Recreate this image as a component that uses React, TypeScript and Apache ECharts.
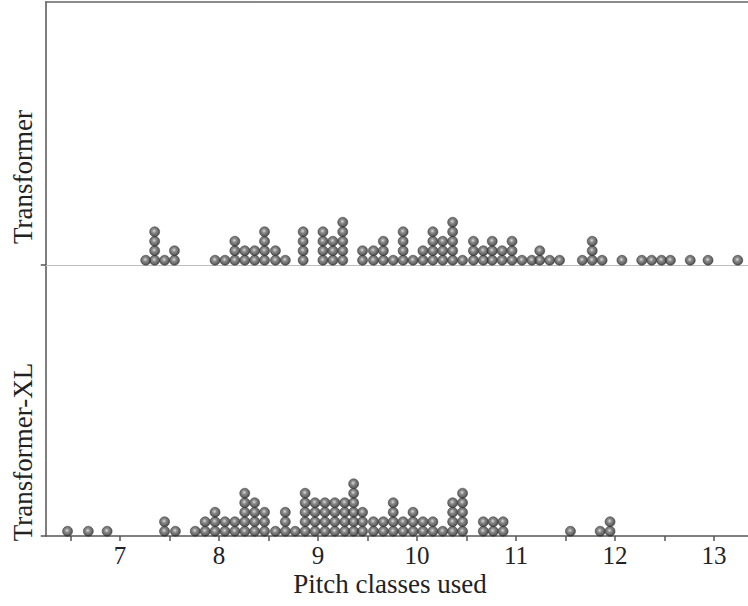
import React, { useEffect, useRef } from "react";
import * as echarts from "echarts";

// ---- data (dot positions and stack heights) ----
const transformerValues = [
  7.26, 7.35, 7.45, 7.55, 7.96, 8.06, 8.16, 8.26, 8.36, 8.46, 8.57, 8.67,
  8.85, 9.05, 9.15, 9.25, 9.45, 9.56, 9.66, 9.76, 9.86, 9.96, 10.06, 10.16,
  10.26, 10.36, 10.46, 10.57, 10.67, 10.76, 10.86, 10.96, 11.06, 11.16, 11.24,
  11.34, 11.44, 11.67, 11.77, 11.87, 12.07, 12.27, 12.37, 12.47, 12.56, 12.76,
  12.94, 13.24,
];
const transformerCounts = [
  1, 4, 1, 2, 1, 1, 3, 2, 2, 4, 2, 1,
  4, 4, 3, 5, 2, 2, 3, 1, 4, 1, 2, 4,
  3, 5, 1, 3, 2, 3, 2, 3, 1, 1, 2,
  1, 1, 1, 3, 1, 1, 1, 1, 1, 1, 1,
  1, 1,
];
const transformerXLValues = [
  6.47, 6.68, 6.87, 7.45, 7.56, 7.76, 7.86, 7.96, 8.06, 8.16, 8.26, 8.36,
  8.46, 8.57, 8.67, 8.77, 8.87, 8.97, 9.07, 9.17, 9.27, 9.36, 9.45, 9.56,
  9.66, 9.76, 9.86, 9.96, 10.06, 10.16, 10.26, 10.36, 10.46, 10.67, 10.77,
  10.87, 11.55, 11.85, 11.95,
];
const transformerXLCounts = [
  1, 1, 1, 2, 1, 1, 2, 3, 2, 2, 5, 4,
  3, 1, 3, 1, 5, 4, 4, 4, 4, 6, 3, 2,
  2, 4, 2, 3, 2, 2, 1, 4, 5, 2, 2,
  2, 1, 1, 2,
];
const xTickValues = [6.5, 7, 7.5, 8, 8.5, 9, 9.5, 10, 10.5, 11, 11.5, 12, 12.5, 13];
const xLabelValues = [7, 8, 9, 10, 11, 12, 13];
const panelNames = ["Transformer", "Transformer-XL"];
const xAxisTitle = "Pitch classes used";

// ---- layout ----
const VIEW_W = 748;
const VIEW_H = 606;
const CANVAS_W = 800; // chart canvas is wider than the view, so the frame's right side is cut off
const X_MIN = 6.25;
const X_MAX = 13.5;
const PX_PER_UNIT = 99;
const PLOT_LEFT = 45.75;
const TOP_Y = 2;
const MID_Y = 265;
const BOTTOM_Y = 536;
const ROW_PX = 9.5;
const FONT = "'Liberation Serif', 'Times New Roman', serif";

function stackDots(values: number[], counts: number[]) {
  const out: number[][] = [];
  values.forEach((v, i) => {
    for (let k = 1; k <= counts[i]; k++) out.push([v, k - 0.5]);
  });
  return out;
}

export default function App() {
  const ref = useRef<HTMLDivElement>(null);

  useEffect(() => {
    if (!ref.current) return;
    const chart = echarts.init(ref.current, null, { renderer: "svg" });
    const gridWidth = (X_MAX - X_MIN) * PX_PER_UNIT;
    const topH = MID_Y - TOP_Y;
    const botH = BOTTOM_Y - MID_Y;

    const sphere = new echarts.graphic.RadialGradient(0.45, 0.42, 0.62, [
      { offset: 0, color: "#d2d2d2" },
      { offset: 0.35, color: "#6c6c6c" },
      { offset: 1, color: "#1a1a1a" },
    ]);

    const darkLine = { color: "#555555", width: 1.5 };

    const baseX = {
      type: "value",
      min: X_MIN,
      max: X_MAX,
      splitLine: { show: false },
    };
    const baseY = {
      type: "value",
      min: 0,
      axisLine: { show: true, onZero: false, lineStyle: darkLine },
      axisTick: { show: true, customValues: [0], length: 5, lineStyle: darkLine },
      axisLabel: { show: false },
      splitLine: { show: false },
    };

    chart.setOption({
      animation: false,
      grid: [
        { left: PLOT_LEFT, top: TOP_Y, width: gridWidth, height: topH, outerBoundsMode: "none", containLabel: false },
        { left: PLOT_LEFT, top: MID_Y, width: gridWidth, height: botH, outerBoundsMode: "none", containLabel: false },
      ],
      xAxis: [
        {
          ...baseX,
          gridIndex: 0,
          axisLine: { show: true, lineStyle: { color: "#bdbdbd", width: 1 } },
          axisTick: { show: false },
          axisLabel: { show: false },
        },
        {
          ...baseX,
          gridIndex: 1,
          axisLine: { show: true, lineStyle: darkLine },
          axisTick: { show: true, customValues: xTickValues, length: 5, lineStyle: darkLine },
          axisLabel: {
            show: true,
            customValues: xLabelValues,
            fontSize: 25,
            fontFamily: FONT,
            color: "#222222",
            margin: 7,
          },
        },
        {
          ...baseX,
          gridIndex: 0,
          position: "top",
          axisLine: { show: true, onZero: false, lineStyle: { color: "#666666", width: 1.5 } },
          axisTick: { show: false },
          axisLabel: { show: false },
        },
      ],
      yAxis: [
        { ...baseY, gridIndex: 0, max: topH / ROW_PX },
        { ...baseY, gridIndex: 1, max: botH / ROW_PX },
      ],
      series: [
        {
          type: "scatter",
          xAxisIndex: 0,
          yAxisIndex: 0,
          symbol: "circle",
          symbolSize: 10,
          itemStyle: { color: sphere, borderColor: "#2a2a2a", borderWidth: 0.6 },
          data: stackDots(transformerValues, transformerCounts),
        },
        {
          type: "scatter",
          xAxisIndex: 1,
          yAxisIndex: 1,
          symbol: "circle",
          symbolSize: 10,
          itemStyle: { color: sphere, borderColor: "#2a2a2a", borderWidth: 0.6 },
          data: stackDots(transformerXLValues, transformerXLCounts),
        },
      ],
      graphic: [
        {
          type: "text",
          x: 23,
          y: 177,
          rotation: Math.PI / 2,
          style: {
            text: panelNames[0],
            font: `27px ${FONT}`,
            fill: "#222222",
            align: "center",
            verticalAlign: "middle",
          },
        },
        {
          type: "text",
          x: 23,
          y: 452,
          rotation: Math.PI / 2,
          style: {
            text: panelNames[1],
            font: `27px ${FONT}`,
            fill: "#222222",
            align: "center",
            verticalAlign: "middle",
          },
        },
        {
          type: "text",
          x: 390,
          y: 584,
          style: {
            text: xAxisTitle,
            font: `27px ${FONT}`,
            fill: "#222222",
            align: "center",
            verticalAlign: "middle",
          },
        },
      ],
    });
    return () => chart.dispose();
  }, []);

  return (
    <div
      style={{
        position: "absolute",
        left: 0,
        top: 0,
        width: VIEW_W,
        height: VIEW_H,
        overflow: "hidden",
        background: "#ffffff",
      }}
    >
      <div ref={ref} style={{ width: CANVAS_W, height: VIEW_H }} />
    </div>
  );
}
